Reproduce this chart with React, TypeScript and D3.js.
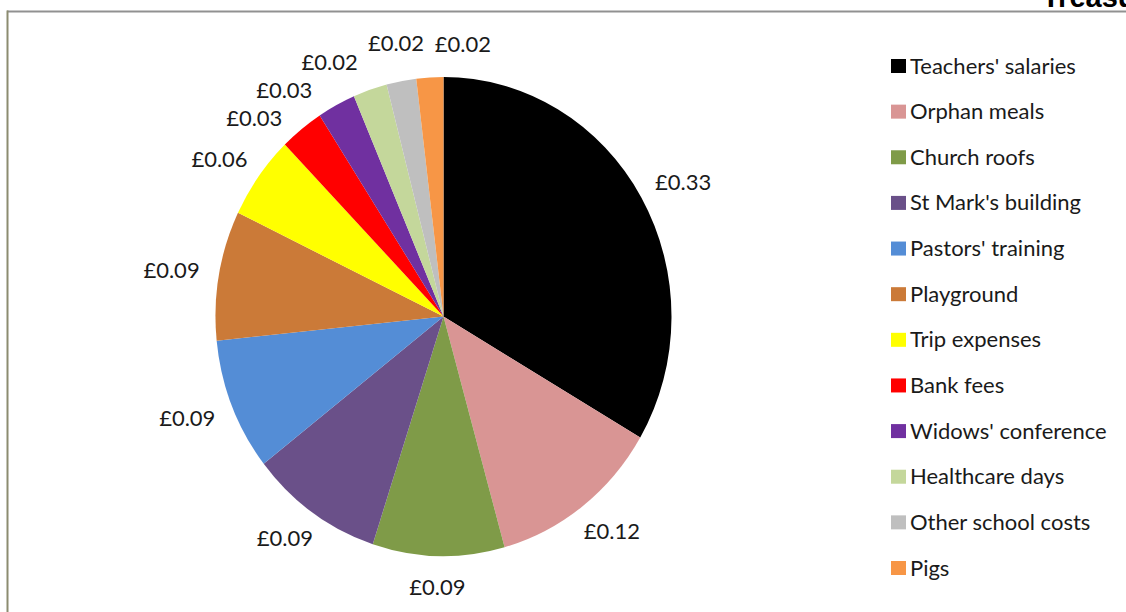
import * as d3 from 'd3'
import { useEffect, useRef } from 'react'

const categories = [
  "Teachers' salaries", 'Orphan meals', 'Church roofs', "St Mark's building",
  "Pastors' training", 'Playground', 'Trip expenses', 'Bank fees',
  "Widows' conference", 'Healthcare days', 'Other school costs', 'Pigs',
]
// share of each pound spent
const values = [0.333, 0.122, 0.093, 0.094, 0.089, 0.087, 0.056, 0.031, 0.027, 0.024, 0.021, 0.019]
const colors = [
  '#000000', '#d99594', '#7f9b48', '#6a5089', '#548dd6', '#cb7a38',
  '#ffff00', '#ff0000', '#7030a0', '#c4d79b', '#bfbfbf', '#f79646',
]

const W = 1126
const H = 612
const font = 'Lato, "Open Sans", sans-serif'

export default function App() {
  const svgRef = useRef<SVGSVGElement>(null)

  useEffect(() => {
    const svg = d3.select(svgRef.current)
    svg.selectAll('*').remove()

    const cx = 443.5, cy = 316.5
    const ry = 239.5, rx = 228
    const gap = 20

    // chart frame (cut by the window on right and bottom)
    svg.append('line').attr('x1', 7).attr('x2', W + 5).attr('y1', 11.5).attr('y2', 11.5)
      .attr('stroke', '#919191').attr('stroke-width', 2)
    svg.append('line').attr('x1', 7.5).attr('x2', 7.5).attr('y1', 10.5).attr('y2', H + 5)
      .attr('stroke', '#8c8c70').attr('stroke-width', 2)

    svg.append('text')
      .attr('x', 1042).attr('y', 7)
      .attr('font-family', 'Arial, "Liberation Sans", sans-serif')
      .attr('font-weight', 'bold').attr('font-size', 29)
      .text('Treasurer')

    const pie = d3.pie<number>().sort(null).value(d => d)
    const arcs = pie(values)
    const arc = d3.arc<d3.PieArcDatum<number>>().innerRadius(0).outerRadius(ry)

    svg.append('g')
      .attr('transform', `translate(${cx},${cy}) scale(${rx / ry},1)`)
      .selectAll('path')
      .data(arcs)
      .enter()
      .append('path')
      .attr('d', arc)
      .attr('fill', (_, i) => colors[i])

    // outside-end labels
    const fmt = (v: number) => '£' + v.toFixed(2)
    const labels = svg.append('g')
      .selectAll('text')
      .data(arcs)
      .enter()
      .append('text')
      .attr('font-family', font)
      .attr('font-size', 22)
      .attr('fill', '#1a1a1a')
      .attr('text-anchor', 'middle')
      .attr('dominant-baseline', 'central')
      .text(d => fmt(d.data))

    const widths: number[] = []
    labels.each(function () { widths.push((this as SVGTextElement).getComputedTextLength()) })
    const lh = 22
    const theta = arcs.map(a => (a.startAngle + a.endAngle) / 2)
    const extra = arcs.map(() => 0)
    const place = (i: number) => {
      const s = Math.sin(theta[i]), c = Math.cos(theta[i])
      const g = gap + extra[i]
      return [cx + s * (rx + g) + s * widths[i] / 2, cy - c * (ry + g) - c * lh / 2]
    }
    // push crowded neighbours apart along the rim, and a little outward
    for (let it = 0; it < 600; it++) {
      for (let i = 0; i < arcs.length; i++) {
        const j = (i + 1) % arcs.length
        const [x1, y1] = place(i)
        const [x2, y2] = place(j)
        const ox = (widths[i] + widths[j]) / 2 + 10 - Math.abs(x1 - x2)
        const oy = lh + 6 - Math.abs(y1 - y2)
        if (ox > 0 && oy > 0) {
          theta[i] -= 0.0015
          theta[j] += 0.0012
          extra[i] = Math.min(extra[i] + 0.03, 10)
          extra[j] = Math.min(extra[j] + 0.03, 10)
        }
      }
    }
    labels
      .attr('x', (_, i) => place(i)[0])
      .attr('y', (_, i) => place(i)[1])

    // legend
    const ly = d3.scalePoint<string>().domain(categories).range([66, 568])
    const legend = svg.append('g')
      .selectAll('g')
      .data(categories)
      .enter()
      .append('g')
      .attr('transform', d => `translate(891,${ly(d)})`)
    legend.append('rect')
      .attr('x', 0).attr('y', -7).attr('width', 15).attr('height', 14)
      .attr('fill', (_, i) => colors[i])
    legend.append('text')
      .attr('x', 19).attr('y', 7.5)
      .attr('font-family', font)
      .attr('font-size', 22)
      .attr('fill', '#1a1a1a')
      .text(d => d)
  }, [])

  return (
    <svg ref={svgRef} width={W} height={H}
      style={{ position: 'absolute', left: 0, top: 0, background: '#fff' }} />
  )
}
